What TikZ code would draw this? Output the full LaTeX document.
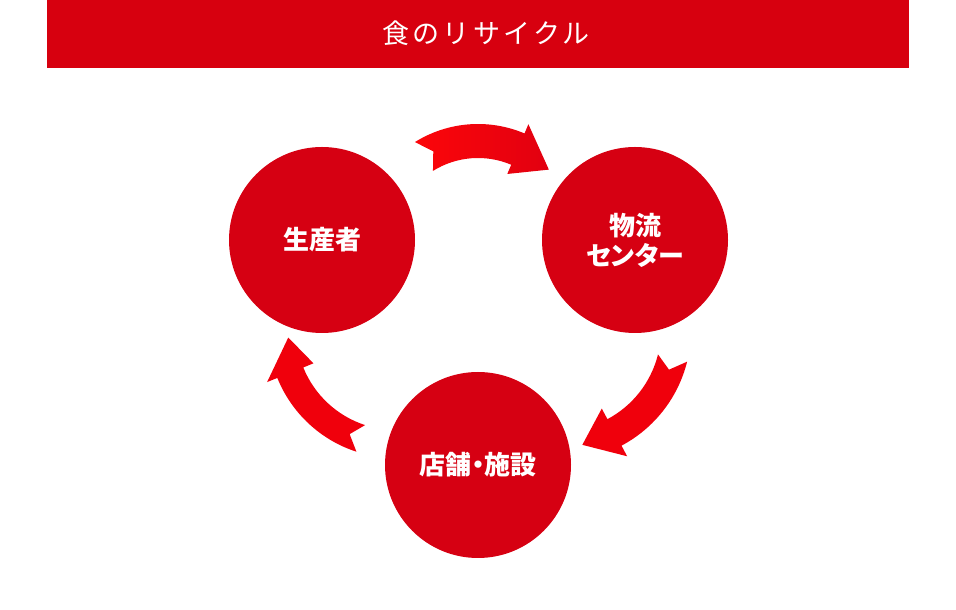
\documentclass[tikz,border=0pt]{standalone}
\usepackage{fontspec}
\newfontfamily\jp[RawFeature=+palt]{Noto Sans CJK JP}
\newfontfamily\jptitle[LetterSpace=12]{Noto Sans CJK JP}
\definecolor{barred}{RGB}{215,0,15}
\definecolor{ballred}{RGB}{214,0,18}
\definecolor{arrred}{RGB}{240,0,12}
\definecolor{arrbright}{RGB}{252,6,10}
\definecolor{arrdark}{RGB}{226,0,16}
% curved band arrow: cx, cy, mid radius, half band, half head, tail angle, head base angle, tip angle, tip radius
\newcommand{\ringarrow}[9]{%
  \begin{scope}[shift={(#1,#2)}]
    \pgfmathsetmacro\rro{#3+#4}
    \pgfmathsetmacro\rri{#3-#4}
    \pgfmathsetmacro\rbo{#3+#5}
    \pgfmathsetmacro\rbi{#3-#5}
    \pgfmathsetmacro\rna{#6-6}
    \path[ringarr] (#6:\rro) arc[start angle=#6, end angle=#7, radius=\rro]
      -- (#7:\rbo) -- (#8:#9) -- (#7:\rbi) -- (#7:\rri)
      arc[start angle=#7, end angle=#6, radius=\rri] -- (\rna:#3) -- cycle;
  \end{scope}}
\tikzset{
  ringarr/.style={fill=arrred},
  bubble/.style={circle, fill=ballred, minimum size=186pt, inner sep=0pt,
    text=white, align=center, font=\jp\bfseries\fontsize{26}{30}\selectfont},
  titletext/.style={text=white, inner sep=0pt, font=\jptitle\fontsize{27}{27}\selectfont}
}
\begin{document}
\begin{tikzpicture}[x=1pt, y=1pt]
  \useasboundingbox (0,0) rectangle (956,610);
  % header
  \fill[barred] (47,610) rectangle (909,542);
  \node[titletext] (title) at (486,577) {食のリサイクル};
  % circles
  \node[bubble] (producer) at (322,370) {生産者};
  \node[bubble] (logistics) at (635,370) {物流\\センター};
  \node[bubble] (store) at (478,145) {店舗・施設};
  % arrows
  \begin{scope}[ringarr/.style={left color=arrbright, right color=arrdark}]
    \ringarrow{478}{367}{102}{17}{27}{122}{67}{46}{102}
  \end{scope}
  \ringarrow{560}{280}{116}{15}{27}{-14}{-62}{-79}{117}
  \ringarrow{396}{280}{114}{14}{25}{-108}{-158}{-176}{108}
\end{tikzpicture}
\end{document}
